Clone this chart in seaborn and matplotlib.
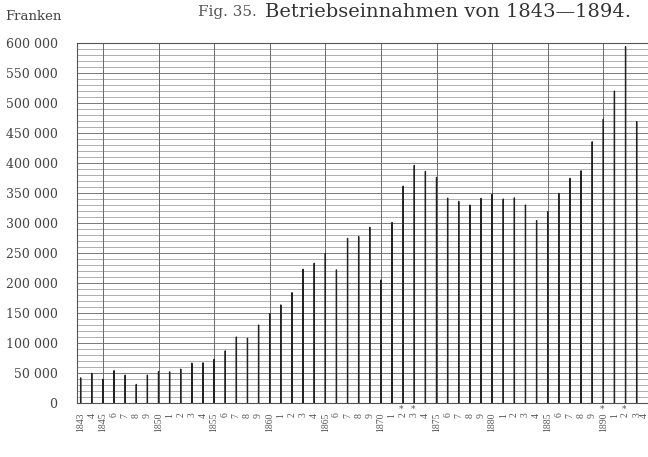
import matplotlib
matplotlib.use("Agg")
import matplotlib.pyplot as plt
from matplotlib.ticker import MultipleLocator, FixedLocator
from matplotlib.transforms import blended_transform_factory, ScaledTranslation
import seaborn as sns
import pandas as pd

# ---- data ----
years = list(range(1843, 1894))
revenue = [42000, 49500, 39500, 54000, 46500, 31000, 46500, 52500, 52000, 56500,
           66500, 67000, 73000, 87000, 110000, 108000, 130000, 149000, 163500, 184000,
           223000, 233000, 249500, 222000, 274500, 277500, 293000, 205000, 301000, 361500,
           396000, 386000, 376000, 341500, 336000, 330000, 341000, 348000, 340000, 342000,
           330000, 304000, 319000, 349500, 374500, 387000, 435500, 473000, 520000, 594000,
           469000]
tick_years = list(range(1843, 1895))
tick_labels = [str(y) if (y == 1843 or y % 5 == 0) else str(y % 10) for y in tick_years]
starred_years = [1872, 1873, 1890, 1892]
grid_years = list(range(1845, 1895, 5))
y_ticks = list(range(0, 600001, 50000))
y_labels = ["0" if v == 0 else f"{v // 1000} 000" for v in y_ticks]

df = pd.DataFrame({"Jahr": years, "Franken": revenue})

sns.set_style("white")
plt.rcParams["font.family"] = ["DejaVu Serif"]

fig = plt.figure(figsize=(6.48, 4.57), dpi=100)
fig.patch.set_facecolor("white")
W, H = 648, 457
x0, x1 = 1842.67, 1894.3
px_per_year = 11.12
ax = fig.add_axes([77 / W, 54 / H, (x1 - x0) * px_per_year / W, 360 / H])

sns.barplot(data=df, x="Jahr", y="Franken", native_scale=True, width=0.02,
            color="#222222", errorbar=None, ax=ax, zorder=3,
            edgecolor="#222222", linewidth=0.9, snap=False)

ax.set_xlim(x0, x1)
ax.set_ylim(0, 600000)

# y axis
ax.yaxis.set_major_locator(FixedLocator(y_ticks))
ax.set_yticklabels(y_labels, fontsize=9, color="#444444")
ax.yaxis.set_minor_locator(MultipleLocator(10000))
ax.tick_params(axis="y", which="both", length=0, pad=14)

# x axis
ax.xaxis.set_major_locator(FixedLocator(tick_years))
ax.set_xticklabels(tick_labels, rotation=90, fontsize=7, color="#555555",
                   family="Liberation Serif")
ax.tick_params(axis="x", which="both", length=0, pad=7)
last = ax.get_xticklabels()[-1]
last.set_transform(last.get_transform() + ScaledTranslation(-3.5 / 100, 0, fig.dpi_scale_trans))

ax.set_axisbelow(True)
ax.grid(axis="y", which="minor", color="#9a9a9a", linewidth=0.55)
ax.grid(axis="y", which="major", color="#7a7a7a", linewidth=0.7)
ax.grid(axis="x", which="major", visible=False)
for gy in grid_years:
    ax.axvline(gy, color="#6a6a6a", linewidth=0.7, zorder=1)

for side in ["left", "top", "bottom", "right"]:
    ax.spines[side].set_color("#555555")
    ax.spines[side].set_linewidth(0.8)

ax.set_xlabel("")
ax.set_ylabel("")

trans = blended_transform_factory(ax.transData, ax.transAxes)
for yr in starred_years:
    ax.text(yr - 0.15, -0.017, "*", transform=trans, ha="center", va="center",
            fontsize=6.5, color="#555555")

fig.text(5 / W, 1 - 17 / H, "Franken", fontsize=9.5, color="#444444",
         ha="left", va="center")
fig.text(198 / W, 1 - 12 / H, "Fig. 35.", fontsize=11, color="#555555",
         ha="left", va="center")
fig.text(265 / W, 1 - 12 / H, "Betriebseinnahmen von 1843\u20141894.", fontsize=14,
         color="#333333", ha="left", va="center")

fig.savefig("out.png", dpi=100)
